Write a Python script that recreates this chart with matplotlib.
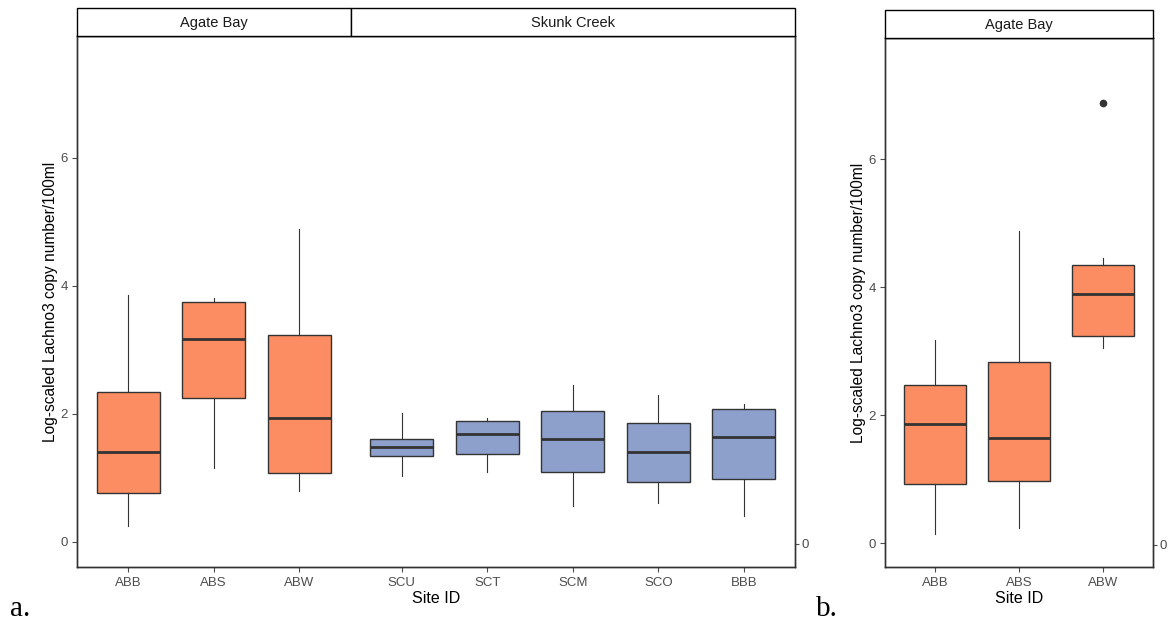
import matplotlib
matplotlib.use("Agg")
import matplotlib.pyplot as plt
from matplotlib.patches import Rectangle

plt.rcParams["font.family"] = ["Liberation Sans", "DejaVu Sans"]

# ---------------- data ----------------
sites_a = ["ABB", "ABS", "ABW", "SCU", "SCT", "SCM", "SCO", "BBB"]
groups_a = ["Agate Bay", "Agate Bay", "Agate Bay",
            "Skunk Creek", "Skunk Creek", "Skunk Creek", "Skunk Creek", "Skunk Creek"]
whislo_a = [0.25, 1.16, 0.80, 1.03, 1.09, 0.56, 0.61, 0.41]
q1_a     = [0.77, 2.25, 1.08, 1.34, 1.38, 1.10, 0.94, 0.98]
med_a    = [1.41, 3.17, 1.94, 1.48, 1.69, 1.61, 1.41, 1.64]
q3_a     = [2.34, 3.75, 3.23, 1.61, 1.89, 2.05, 1.86, 2.08]
whishi_a = [3.86, 3.81, 4.89, 2.02, 1.94, 2.45, 2.30, 2.16]

sites_b = ["ABB", "ABS", "ABW"]
whislo_b = [0.14, 0.23, 3.05]
q1_b     = [0.92, 0.97, 3.23]
med_b    = [1.86, 1.64, 3.89]
q3_b     = [2.47, 2.83, 4.34]
whishi_b = [3.17, 4.88, 4.45]
fliers_b = [[], [], [6.87]]

yticks = [0, 2, 4, 6]
group_colors = {"Agate Bay": "#FC8D62", "Skunk Creek": "#8DA0CB"}

# ---------------- figure ----------------
W, H = 1169, 622
fig = plt.figure(figsize=(W / 100, H / 100), dpi=100)


def fx(px):
    return px / W


def fy(py):
    return 1 - py / H


EDGE = "#333333"
TICKC = "#4D4D4D"
EXPAND = 0.6


def make_stats(sites, lo, q1, med, q3, hi, fl=None):
    stats = []
    for i, s in enumerate(sites):
        stats.append(dict(label=s, whislo=lo[i], q1=q1[i], med=med[i],
                          q3=q3[i], whishi=hi[i],
                          fliers=(fl[i] if fl else [])))
    return stats


def facet_positions(groups):
    # facets placed side by side, each expanded by EXPAND on both sides
    pos, bounds = [], []
    cur = -EXPAND
    order = []
    for g in groups:
        if g not in order:
            order.append(g)
    for g in order:
        n = sum(1 for gg in groups if gg == g)
        start = cur + EXPAND
        pos.extend([start + k for k in range(n)])
        end = start + (n - 1) + EXPAND
        bounds.append((g, cur, end))
        cur = end
    return pos, bounds


def draw_panel(ax, stats, positions, colors, xlim, ylim):
    bp = ax.bxp(stats, positions=positions, widths=0.74, patch_artist=True,
                showcaps=False, showfliers=True,
                boxprops=dict(edgecolor=EDGE, linewidth=1.0),
                medianprops=dict(color=EDGE, linewidth=2.0),
                whiskerprops=dict(color=EDGE, linewidth=0.8),
                flierprops=dict(marker="o", markersize=4.5,
                                markerfacecolor=EDGE, markeredgecolor=EDGE))
    for patch, c in zip(bp["boxes"], colors):
        patch.set_facecolor(c)
    ax.set_xlim(*xlim)
    ax.set_ylim(*ylim)
    ax.set_yticks(yticks)
    ax.set_yticklabels([str(t) for t in yticks])
    ax.tick_params(axis="both", colors=TICKC, labelcolor=TICKC,
                   labelsize=9.5, length=3.5, width=0.8, direction="out")
    ax.tick_params(axis="y", pad=3)
    ax.tick_params(axis="x", pad=4)
    for sp in ax.spines.values():
        sp.set_color(EDGE)
        sp.set_linewidth(1.0)
    ax.set_xlabel("Site ID", fontsize=11.5, color="black", labelpad=1)
    ax.set_ylabel("Log-scaled Lachno3 copy number/100ml", fontsize=11.2,
                  color="black", labelpad=2)
    # secondary right axis with a single 0 tick
    ax2 = ax.twinx()
    ax2.set_ylim(ylim[0] + 0.03, ylim[1] + 0.03)
    ax2.set_yticks([0])
    ax2.set_yticklabels(["0"])
    ax2.tick_params(axis="y", colors=TICKC, labelcolor=TICKC,
                    labelsize=9.5, length=3, width=0.8, pad=2)
    for sp in ax2.spines.values():
        sp.set_color(EDGE)
        sp.set_linewidth(1.0)
    return ax


# ---------- panel a ----------
pos_a, bounds_a = facet_positions(groups_a)
xlim_a = (bounds_a[0][1], bounds_a[-1][2])
ax_a = fig.add_axes([fx(77), fy(567), fx(795) - fx(77), fy(36) - fy(567)])
stats_a = make_stats(sites_a, whislo_a, q1_a, med_a, q3_a, whishi_a)
draw_panel(ax_a, stats_a, pos_a, [group_colors[g] for g in groups_a],
           xlim_a, ((542 - 567) / 64, (542 - 36) / 64))

strip_a = fig.add_axes([fx(77), fy(36), fx(795) - fx(77), fy(8) - fy(36)])
strip_a.set_xlim(*xlim_a)
strip_a.set_ylim(0, 1)
strip_a.axis("off")
for g, left, right in bounds_a:
    strip_a.add_patch(Rectangle((left, 0), right - left, 1, facecolor="white",
                                edgecolor="black", linewidth=1.0, clip_on=False))
    strip_a.text((left + right) / 2, 0.45, g, ha="center", va="center",
                 fontsize=10.5, color="#1A1A1A")

# ---------- panel b ----------
pos_b, bounds_b = facet_positions(["Agate Bay"] * len(sites_b))
xlim_b = (bounds_b[0][1], bounds_b[-1][2])
ax_b = fig.add_axes([fx(885), fy(567), fx(1153) - fx(885), fy(38) - fy(567)])
stats_b = make_stats(sites_b, whislo_b, q1_b, med_b, q3_b, whishi_b, fliers_b)
draw_panel(ax_b, stats_b, pos_b, [group_colors["Agate Bay"]] * 3,
           xlim_b, ((543 - 567) / 64, (543 - 38) / 64))

strip_b = fig.add_axes([fx(885), fy(38), fx(1153) - fx(885), fy(10) - fy(38)])
strip_b.set_xlim(*xlim_b)
strip_b.set_ylim(0, 1)
strip_b.axis("off")
for g, left, right in bounds_b:
    strip_b.add_patch(Rectangle((left, 0), right - left, 1, facecolor="white",
                                edgecolor="black", linewidth=1.0, clip_on=False))
    strip_b.text((left + right) / 2, 0.45, g, ha="center", va="center",
                 fontsize=10.5, color="#1A1A1A")

# ---------- panel letters ----------
fig.text(fx(10), fy(609), "a.", fontsize=21, family="Liberation Serif",
         ha="left", va="center")
fig.text(fx(816), fy(609), "b.", fontsize=21, family="Liberation Serif",
         ha="left", va="center")

fig.savefig("out.png", dpi=100)
